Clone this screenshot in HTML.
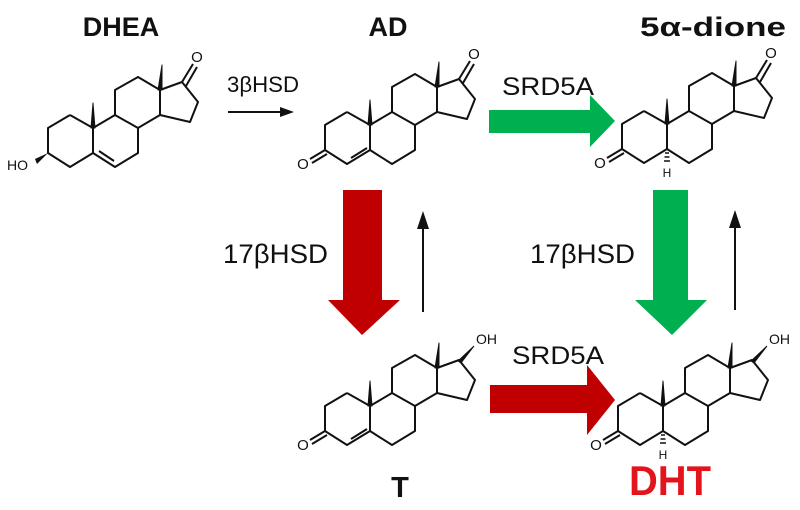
<!DOCTYPE html>
<html><head><meta charset="utf-8"><style>
html,body{margin:0;padding:0;background:#fff;}
svg{display:block;}
text{font-family:"Liberation Sans",sans-serif;}
</style></head><body>
<svg width="800" height="510" viewBox="0 0 800 510" xmlns="http://www.w3.org/2000/svg">
<defs>
<g id="sk" fill="none" stroke="#111" stroke-width="2" stroke-linejoin="round">
<polyline points="70,115 48,128 48,153 70,167 93,153 93,128 70,115"/>
<polyline points="93,128 115,115 138,128 138,153 115,167 93,153"/>
<polyline points="115,115 115,90 138,77 160,90 160,115 138,128"/>
<polyline points="160,90 182,82 198,102 190,122 160,115"/>
<polygon points="91,128 95,128 93,103" fill="#111" stroke-width="1"/>
<polygon points="158,90 162,90 162,65" fill="#111" stroke-width="1"/>
</g>
<g id="keto17" fill="none" stroke="#111" stroke-width="2">
<line x1="182" y1="82" x2="193" y2="64"/>
<line x1="186" y1="86" x2="197" y2="67"/>
<text x="197" y="62" font-size="15" text-anchor="middle" fill="#111" stroke="none">O</text>
</g>
<g id="oh17">
<polygon points="181,83 184,85 197,68" fill="#111" stroke="#111" stroke-width="1"/>
<text x="199" y="66" font-size="14" fill="#111">OH</text>
</g>
<g id="enone" fill="none" stroke="#111" stroke-width="2">
<line x1="74" y1="161" x2="90" y2="151"/>
<line x1="48" y1="153" x2="33" y2="162"/>
<line x1="50" y1="157" x2="35" y2="166"/>
<text x="26" y="172" font-size="15" text-anchor="middle" fill="#111" stroke="none">O</text>
</g>
<g id="ketoA" fill="none" stroke="#111" stroke-width="2">
<line x1="48" y1="153" x2="33" y2="162"/>
<line x1="50" y1="157" x2="35" y2="166"/>
<text x="26" y="172" font-size="15" text-anchor="middle" fill="#111" stroke="none">O</text>
<g stroke-width="1.5"><line x1="91" y1="157" x2="95" y2="157"/><line x1="90.5" y1="161" x2="95.5" y2="161"/><line x1="90" y1="165" x2="96" y2="165"/></g>
<text x="93" y="181" font-size="12" text-anchor="middle" fill="#111" stroke="none">H</text>
</g>
</defs>

<!-- DHEA -->
<g>
<use href="#sk"/><use href="#keto17"/>
<line x1="99" y1="151" x2="114" y2="161" stroke="#111" stroke-width="2"/>
<polygon points="48,153 35,159 37,164" fill="#111"/>
<text x="7" y="170" font-size="14" fill="#111">HO</text>
</g>
<!-- AD -->
<g transform="translate(277,-3)"><use href="#sk"/><use href="#keto17"/><use href="#enone"/></g>
<!-- 5a-dione -->
<g transform="translate(574,-4)"><use href="#sk"/><use href="#keto17"/><use href="#ketoA"/></g>
<!-- T -->
<g transform="translate(277,278)"><use href="#sk"/><use href="#oh17"/><use href="#enone"/></g>
<!-- DHT -->
<g transform="translate(570,278)"><use href="#sk"/><use href="#oh17"/><use href="#ketoA"/></g>

<!-- titles -->
<text x="121" y="36" font-size="27" font-weight="bold" text-anchor="middle" fill="#111">DHEA</text>
<text x="388" y="36" font-size="27" font-weight="bold" text-anchor="middle" fill="#111">AD</text>
<text x="713" y="36" font-size="27" font-weight="bold" text-anchor="middle" fill="#111" textLength="146" lengthAdjust="spacingAndGlyphs">5α-dione</text>
<text x="400" y="497" font-size="29" font-weight="bold" text-anchor="middle" fill="#111">T</text>
<text x="670" y="495" font-size="42" font-weight="bold" text-anchor="middle" fill="#e3141b" textLength="82" lengthAdjust="spacingAndGlyphs">DHT</text>

<!-- 3bHSD -->
<text x="227" y="92" font-size="22" fill="#111" textLength="72" lengthAdjust="spacingAndGlyphs">3βHSD</text>
<line x1="228" y1="112" x2="283" y2="112" stroke="#111" stroke-width="2"/>
<polygon points="294,112 280,107 280,117" fill="#111"/>

<!-- SRD5A green -->
<text x="502" y="95" font-size="25" fill="#111" textLength="92" lengthAdjust="spacingAndGlyphs">SRD5A</text>
<polygon points="489,110 590,110 590,95 615,121 590,147 590,133 489,133" fill="#00b050"/>

<!-- red down -->
<polygon points="343,190 382,190 382,300 400,300 362,335 328,300 343,300" fill="#c00000"/>
<text x="223" y="263" font-size="27" fill="#111" textLength="105" lengthAdjust="spacingAndGlyphs">17βHSD</text>
<line x1="423" y1="312" x2="423" y2="225" stroke="#111" stroke-width="2"/>
<polygon points="423,211 417,229 429,229" fill="#111"/>

<!-- green down -->
<polygon points="653,190 688,190 688,300 707,300 672,335 635,300 653,300" fill="#00b050"/>
<text x="530" y="263" font-size="27" fill="#111" textLength="105" lengthAdjust="spacingAndGlyphs">17βHSD</text>
<line x1="735" y1="310" x2="735" y2="224" stroke="#111" stroke-width="2"/>
<polygon points="735,210 729,228 741,228" fill="#111"/>

<!-- red right -->
<text x="512" y="364" font-size="25" fill="#111" textLength="92" lengthAdjust="spacingAndGlyphs">SRD5A</text>
<polygon points="490,385 587,385 587,365 615,400 587,435 587,413 490,413" fill="#c00000"/>
</svg>
</body></html>
